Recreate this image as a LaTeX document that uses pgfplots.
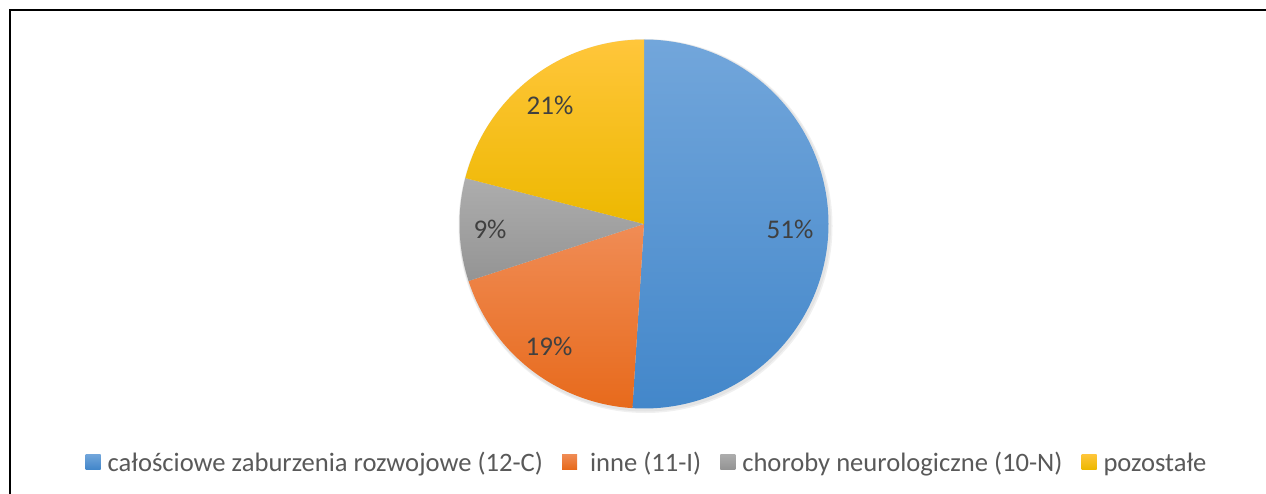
\documentclass[border=0pt]{standalone}
\usepackage{pgfplots}
\pgfplotsset{compat=1.18}
\usepackage{fontspec}
\setmainfont{Carlito}
\definecolor{bluetop}{HTML}{72A6DB}
\definecolor{bluebot}{HTML}{4387CA}
\definecolor{orgtop}{HTML}{F08C55}
\definecolor{orgbot}{HTML}{E76A1C}
\definecolor{graytop}{HTML}{ADADAD}
\definecolor{graybot}{HTML}{949494}
\definecolor{yeltop}{HTML}{FFC63B}
\definecolor{yelbot}{HTML}{EDB800}
\definecolor{labelgray}{HTML}{404040}
\definecolor{leggray}{HTML}{595959}
% data (percent)
\def\pA{51}\def\pB{19}\def\pC{9}\def\pD{21}
\def\cx{644}\def\cy{269}\def\pieR{184.5}
\pgfmathsetmacro\aA{90}
\pgfmathsetmacro\aB{\aA-3.6*\pA}
\pgfmathsetmacro\aC{\aB-3.6*\pB}
\pgfmathsetmacro\aD{\aC-3.6*\pC}
\pgfmathsetmacro\aE{\aD-3.6*\pD}
\begin{document}
\begin{tikzpicture}
\useasboundingbox (0,0) rectangle (1266pt,493pt);
\begin{axis}[at={(0,0)}, anchor=south west, scale only axis,
  width=1266pt, height=493pt, xmin=0, xmax=1266, ymin=0, ymax=493,
  hide axis, clip=false,
  legend style={draw=none, fill=none, at={(axis cs:646,30)}, anchor=center,
    legend columns=-1, font=\fontsize{26.6}{30}\selectfont, text=leggray,
    nodes={inner xsep=0pt, inner ysep=2pt},
    /tikz/every odd column/.append style={column sep=7pt},
    /tikz/every even column/.append style={column sep=19pt}},
]
% faint shadow
\fill[black, opacity=0.06] (axis cs:645.5,267) circle[radius=187pt];
\fill[black, opacity=0.05] (axis cs:645,267.5) circle[radius=186pt];
\addplot[draw=none, top color=bluetop, bottom color=bluebot, domain=\aB:\aA, samples=150, forget plot]
  ({\cx+\pieR*cos(x)},{\cy+\pieR*sin(x)}) -- (axis cs:\cx,\cy) -- cycle;
\addplot[draw=none, top color=orgtop, bottom color=orgbot, domain=\aC:\aB, samples=80, forget plot]
  ({\cx+\pieR*cos(x)},{\cy+\pieR*sin(x)}) -- (axis cs:\cx,\cy) -- cycle;
\addplot[draw=none, top color=graytop, bottom color=graybot, domain=\aD:\aC, samples=50, forget plot]
  ({\cx+\pieR*cos(x)},{\cy+\pieR*sin(x)}) -- (axis cs:\cx,\cy) -- cycle;
\addplot[draw=none, top color=yeltop, bottom color=yelbot, domain=\aE:\aD, samples=80, forget plot]
  ({\cx+\pieR*cos(x)},{\cy+\pieR*sin(x)}) -- (axis cs:\cx,\cy) -- cycle;
% labels
\node[text=labelgray, font=\fontsize{27}{30}\selectfont] at (axis cs:790,264) {51\%};
\node[text=labelgray, font=\fontsize{27}{30}\selectfont] at (axis cs:549,147) {19\%};
\node[text=labelgray, font=\fontsize{27}{30}\selectfont] at (axis cs:490,264) {9\%};
\node[text=labelgray, font=\fontsize{27}{30}\selectfont] at (axis cs:550,388) {21\%};
% legend
\addlegendimage{legend image code/.code={\shade[draw=none, top color=bluetop, bottom color=bluebot] (0pt,-6pt) rectangle (15pt,9pt);}}
\addlegendentry{całościowe zaburzenia rozwojowe (12-C)}
\addlegendimage{legend image code/.code={\shade[draw=none, top color=orgtop, bottom color=orgbot] (0pt,-6pt) rectangle (15pt,9pt);}}
\addlegendentry{\ inne (11-I)}
\addlegendimage{legend image code/.code={\shade[draw=none, top color=graytop, bottom color=graybot] (0pt,-6pt) rectangle (15pt,9pt);}}
\addlegendentry{choroby neurologiczne (10-N)}
\addlegendimage{legend image code/.code={\shade[draw=none, top color=yeltop, bottom color=yelbot] (0pt,-6pt) rectangle (15pt,9pt);}}
\addlegendentry{pozostałe}
% frame
\draw[line width=2.4pt, line join=miter] (axis cs:1270,483) -- (axis cs:9.8,483) -- (axis cs:9.8,-5);
\end{axis}
\end{tikzpicture}
\end{document}
